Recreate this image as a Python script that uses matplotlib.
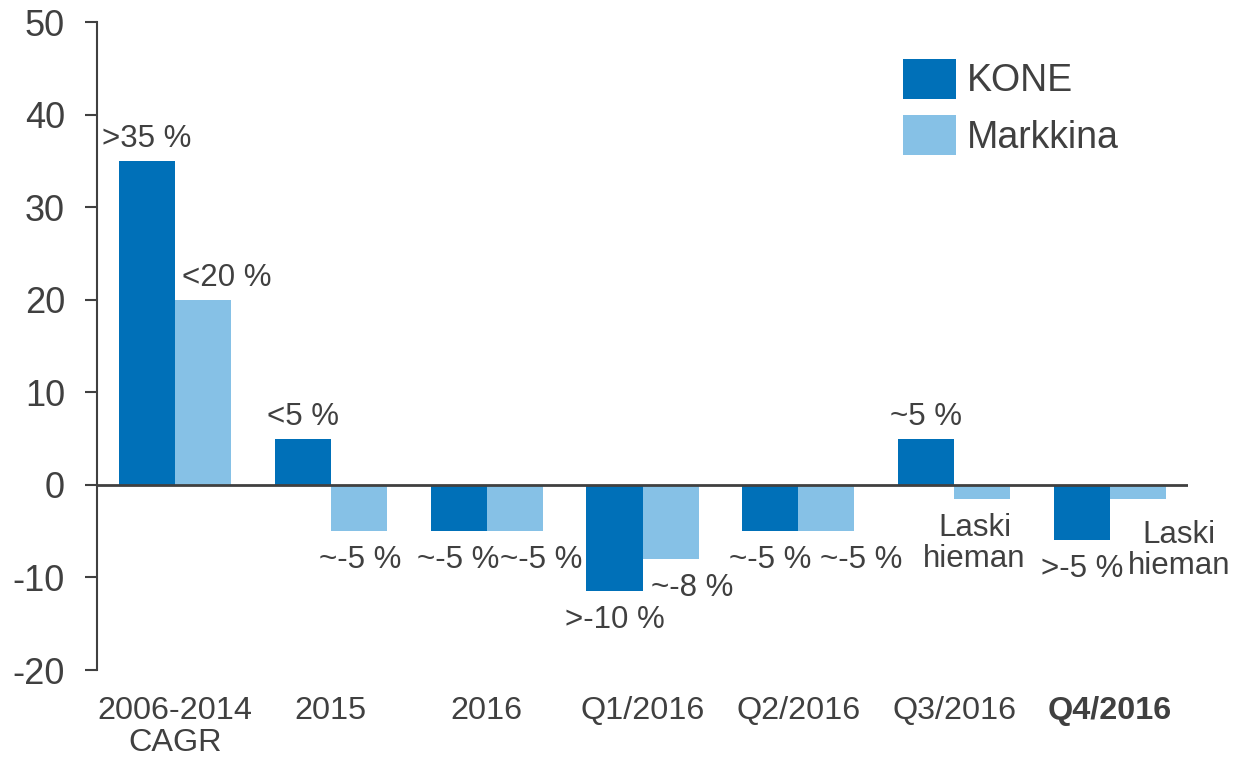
import numpy as np
import matplotlib
matplotlib.use("Agg")
import matplotlib.pyplot as plt

plt.rcParams['font.family'] = ['Liberation Sans', 'DejaVu Sans']
plt.rcParams['axes.unicode_minus'] = False

categories = ["2006-2014\nCAGR", "2015", "2016", "Q1/2016", "Q2/2016", "Q3/2016", "Q4/2016"]
kone = [35, 5, -5, -11.5, -5, 5, -6]
market = [20, -5, -5, -8, -5, -1.5, -1.5]
kone_labels = [">35 %", "<5 %", "~-5 %", ">-10 %", "~-5 %", "~5 %", ">-5 %"]
market_labels = ["<20 %", "~-5 %", "~-5 %", "~-8 %", "~-5 %", "Laski\nhieman", "Laski\nhieman"]

# hand placement of the market labels (data units / points)
market_dx = [0.15, 0.01, 0.17, 0.14, 0.22, -0.05, 0.26]
market_dy = [0, 0, 0, 0, 0, 0, -5]

c_kone = "#0070B8"
c_market = "#86C1E6"
c_text = "#404040"

fig = plt.figure(figsize=(12.38, 7.63), dpi=100)
ax = fig.add_axes([97 / 1238, 1 - 670 / 763, (1188 - 97) / 1238, (670 - 22) / 763])

x = np.arange(len(categories))
w = 0.36
ax.bar(x - w / 2, kone, w, color=c_kone, label="KONE", zorder=2)
ax.bar(x + w / 2, market, w, color=c_market, label="Markkina", zorder=2)
ax.axhline(0, color=c_text, lw=2, zorder=3)

def put_label(xc, v, txt, dy=0):
    if v >= 0:
        ax.annotate(txt, (xc, v), xytext=(0, 5 + dy), textcoords="offset points",
                    ha="center", va="bottom", fontsize=22.5, color=c_text)
    else:
        ax.annotate(txt, (xc, v), xytext=(0, -10 + dy), textcoords="offset points",
                    ha="center", va="top", fontsize=22.5, color=c_text, linespacing=1.05)

for i in range(len(categories)):
    put_label(x[i] - w / 2, kone[i], kone_labels[i])
    put_label(x[i] + w / 2 + market_dx[i], market[i], market_labels[i], market_dy[i])

ax.set_xlim(-0.5, 6.5)
ax.set_ylim(-20, 50)
ax.set_yticks(range(-20, 51, 10))
ax.set_xticks(x)
ax.set_xticklabels(categories, fontsize=23.3, color=c_text, linespacing=1.05)
ax.get_xticklabels()[-1].set_fontweight("bold")
ax.tick_params(axis="x", length=0, pad=19)
ax.tick_params(axis="y", labelsize=26, labelcolor=c_text, color=c_text,
               length=9, width=1.5, pad=14)

for s in ["top", "right", "bottom"]:
    ax.spines[s].set_visible(False)
ax.spines["left"].set_color(c_text)
ax.spines["left"].set_linewidth(1.5)

ax.legend(loc="upper left", bbox_to_anchor=(903 / 1238, 1 - 59 / 763),
          bbox_transform=fig.transFigure, frameon=False, fontsize=27,
          handlelength=1.41, handleheight=1.25, handletextpad=0.3,
          labelspacing=0.42, borderpad=0, borderaxespad=0, labelcolor=c_text)

fig.savefig("out.png", dpi=100)
